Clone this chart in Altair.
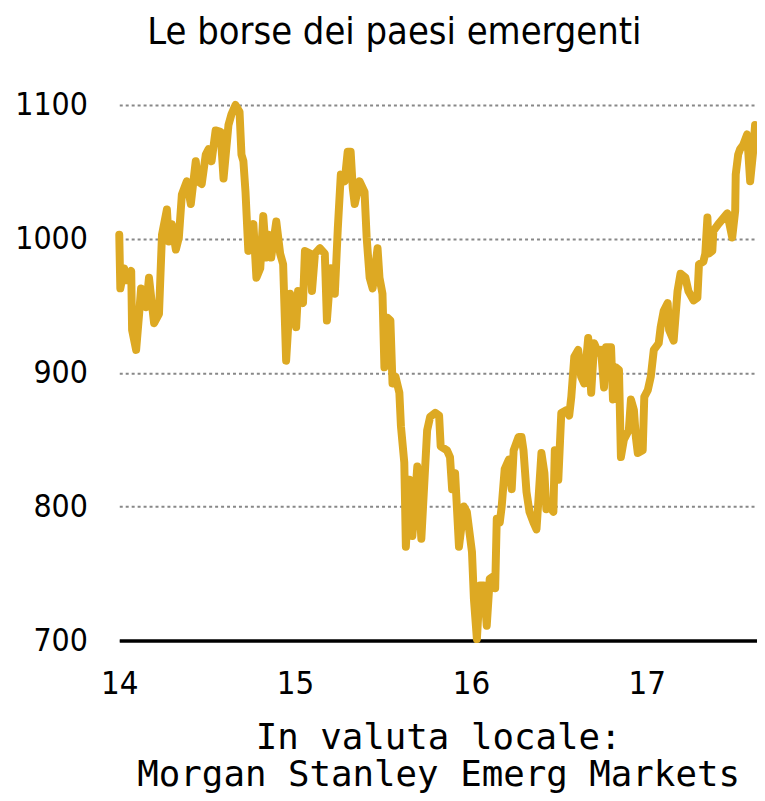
import altair as alt
import pandas as pd

# Decimal year (2014.0 = start of 2014) and index level
years = [
    2014.000, 2014.006, 2014.028, 2014.040, 2014.068, 2014.073, 2014.096, 2014.113,
    2014.124, 2014.153, 2014.169, 2014.198, 2014.226, 2014.243, 2014.271, 2014.282,
    2014.299, 2014.322, 2014.339, 2014.356, 2014.384, 2014.407, 2014.435, 2014.446,
    2014.469, 2014.492, 2014.508, 2014.525, 2014.548, 2014.576, 2014.593, 2014.621,
    2014.638, 2014.661, 2014.684, 2014.695, 2014.706, 2014.718, 2014.734, 2014.763,
    2014.780, 2014.802, 2014.819, 2014.836, 2014.853, 2014.864, 2014.893, 2014.915,
    2014.932, 2014.949, 2014.972, 2015.006, 2015.017, 2015.045, 2015.056, 2015.085,
    2015.096, 2015.113, 2015.141, 2015.169, 2015.181, 2015.203, 2015.226, 2015.243,
    2015.260, 2015.282, 2015.299, 2015.316, 2015.328, 2015.339, 2015.367, 2015.395,
    2015.407, 2015.424, 2015.441, 2015.469, 2015.480, 2015.497, 2015.508, 2015.525,
    2015.542, 2015.554, 2015.571, 2015.593, 2015.602, 2015.621, 2015.630, 2015.650,
    2015.667, 2015.695, 2015.718, 2015.751, 2015.768, 2015.797, 2015.819, 2015.828,
    2015.864, 2015.881, 2015.893, 2015.910, 2015.932, 2015.960, 2015.977, 2016.006,
    2016.017, 2016.034, 2016.051, 2016.073, 2016.090, 2016.107, 2016.130, 2016.138,
    2016.147, 2016.164, 2016.175, 2016.192, 2016.215, 2016.232, 2016.243, 2016.271,
    2016.288, 2016.299, 2016.316, 2016.333, 2016.356, 2016.373, 2016.384, 2016.401,
    2016.418, 2016.429, 2016.446, 2016.469, 2016.477, 2016.497, 2016.514, 2016.542,
    2016.559, 2016.571, 2016.588, 2016.610, 2016.627, 2016.644, 2016.667, 2016.684,
    2016.701, 2016.723, 2016.740, 2016.757, 2016.768, 2016.797, 2016.808, 2016.825,
    2016.842, 2016.853, 2016.870, 2016.898, 2016.910, 2016.927, 2016.938, 2016.949,
    2016.977, 2016.986, 2017.006, 2017.023, 2017.040, 2017.068, 2017.079, 2017.096,
    2017.119, 2017.127, 2017.153, 2017.175, 2017.192, 2017.220, 2017.237, 2017.266,
    2017.288, 2017.297, 2017.322, 2017.333, 2017.345, 2017.353, 2017.373, 2017.379,
    2017.407, 2017.458, 2017.486, 2017.503, 2017.506, 2017.520, 2017.531, 2017.548,
    2017.571, 2017.588, 2017.605, 2017.616,
]
values = [
    1003, 963, 978, 969, 976, 932, 917, 944,
    963, 949, 971, 937, 944, 1003, 1022, 998,
    1011, 992, 1001, 1033, 1043, 1026, 1058, 1043,
    1041, 1063, 1067, 1058, 1081, 1080, 1045, 1085,
    1093, 1100, 1095, 1063, 1058, 1035, 991, 1011,
    971, 978, 1017, 986, 1003, 986, 1013, 989,
    981, 909, 959, 934, 961, 952, 991, 989,
    961, 989, 993, 989, 939, 978, 959, 1008,
    1048, 1043, 1065, 1065, 1038, 1026, 1043, 1035,
    1001, 971, 963, 993, 971, 959, 904, 941,
    939, 892, 897, 885, 860, 833, 770, 820,
    778, 830, 776, 857, 867, 870, 868, 845,
    842, 837, 813, 825, 770, 800, 796, 766,
    731, 701, 741, 741, 711, 746, 748, 739,
    791, 788, 800, 828, 835, 813, 842, 852,
    852, 842, 811, 796, 788, 783, 805, 840,
    825, 798, 800, 796, 842, 820, 870, 872,
    868, 882, 912, 917, 897, 892, 926, 885,
    922, 915, 917, 889, 919, 919, 880, 904,
    902, 837, 850, 857, 880, 872, 852, 840,
    842, 882, 887, 897, 917, 922, 934, 946,
    952, 932, 924, 961, 974, 971, 961, 954,
    956, 981, 983, 989, 1016, 989, 991, 1006,
    1011, 1019, 1001, 1021, 1048, 1063, 1067, 1070,
    1078, 1043, 1065, 1085,
]

x_ticks = [2014, 2015, 2016, 2017]
y_ticks = [700, 800, 900, 1000, 1100]

title_text = "Le borse dei paesi emergenti"
footer_lines = ["In valuta locale:", "Morgan Stanley Emerg Markets"]

df = pd.DataFrame({"anno": years, "indice": values})

narrow = "DejaVu Sans Condensed, Liberation Sans, sans-serif"
mono = "DejaVu Sans Mono, Liberation Mono, monospace"

line = alt.Chart(df).mark_line(
    color="#DDA923", strokeWidth=8, strokeJoin="round", strokeCap="round", clip=False
).encode(
    x=alt.X(
        "anno:Q",
        scale=alt.Scale(domain=[2014, 2017.627], nice=False, zero=False),
        axis=alt.Axis(
            values=x_ticks,
            format="d",
            labelExpr="slice(datum.label, 2)",
            grid=False,
            ticks=False,
            tickSize=0,
            domain=True,
            domainColor="#000000",
            domainWidth=3.5,
            labelFont=narrow,
            labelFontSize=33,
            labelColor="#000000",
            labelPadding=27,
            labelFlush=False,
            title=footer_lines,
            titleFont=mono,
            titleFontSize=36,
            titleFontWeight="normal",
            titleColor="#000000",
            titlePadding=21,
            titleLineHeight=37,
        ),
    ),
    y=alt.Y(
        "indice:Q",
        scale=alt.Scale(domain=[700, 1100], nice=False, zero=False),
        axis=alt.Axis(
            values=y_ticks,
            format="d",
            grid=True,
            gridColor="#888888",
            gridDash=[3, 3],
            gridWidth=2,
            domain=False,
            ticks=False,
            tickSize=0,
            labelFont=narrow,
            labelFontSize=32,
            labelColor="#000000",
            labelPadding=32,
            title=None,
        ),
    ),
)

chart = line.properties(
    width=642,
    height=539,
    background="#ffffff",
    autosize=alt.AutoSizeParams(type="none"),
    padding={"left": 112, "top": 95, "right": 0, "bottom": 158},
    title=alt.TitleParams(
        text=title_text,
        font=narrow,
        fontSize=38,
        fontWeight="normal",
        color="#000000",
        anchor="middle",
        frame="group",
        dx=-44,
        offset=37,
    ),
).configure_view(stroke=None)

chart.save("out.html", embed_options={"renderer": "svg", "actions": False})
